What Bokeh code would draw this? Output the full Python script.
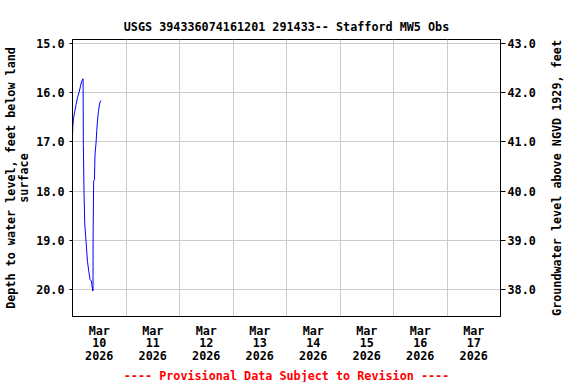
import pandas as pd
from bokeh.plotting import figure
from bokeh.layouts import row
from bokeh.models import Range1d, LinearAxis, FixedTicker, Title, NumeralTickFormatter
from bokeh.embed import file_html
from bokeh.resources import INLINE

# ---- data ----
times = ["2026-03-10 00:00", "2026-03-10 00:10", "2026-03-10 00:27", "2026-03-10 01:02",
         "2026-03-10 01:37", "2026-03-10 02:22", "2026-03-10 02:58", "2026-03-10 03:35",
         "2026-03-10 04:02", "2026-03-10 04:37", "2026-03-10 04:45", "2026-03-10 04:52",
         "2026-03-10 05:12", "2026-03-10 05:30", "2026-03-10 06:05", "2026-03-10 06:43",
         "2026-03-10 07:18", "2026-03-10 07:53", "2026-03-10 08:30", "2026-03-10 09:05",
         "2026-03-10 09:12", "2026-03-10 09:15", "2026-03-10 09:30", "2026-03-10 09:51",
         "2026-03-10 10:06", "2026-03-10 10:34", "2026-03-10 10:53", "2026-03-10 11:12",
         "2026-03-10 11:38", "2026-03-10 12:13", "2026-03-10 12:48"]
depth = [16.86, 16.68, 16.52, 16.38, 16.24, 16.08, 15.99, 15.87,
         15.78, 15.72, 15.72, 17.05, 18.10, 18.67, 19.03, 19.43,
         19.63, 19.80, 19.83, 20.03, 20.03, 18.85, 17.80, 17.77,
         17.26, 17.02, 16.77, 16.58, 16.38, 16.21, 16.16]
day_dates = ["2026-03-10", "2026-03-11", "2026-03-12", "2026-03-13",
             "2026-03-14", "2026-03-15", "2026-03-16", "2026-03-17"]
day_labels = ["Mar\n10\n2026", "Mar\n11\n2026", "Mar\n12\n2026", "Mar\n13\n2026",
              "Mar\n14\n2026", "Mar\n15\n2026", "Mar\n16\n2026", "Mar\n17\n2026"]
depth_ticks = [15, 16, 17, 18, 19, 20]
elev_ticks = [38, 39, 40, 41, 42, 43]
datum = 58.0  # land surface elevation: elevation = datum - depth
depth_min, depth_max = 14.92, 20.55
x_first, x_last = "2026-03-10", "2026-03-18"

title_text = "USGS 394336074161201 291433-- Stafford MW5 Obs"
caption_text = "---- Provisional Data Subject to Revision ----"
left_label = "Depth to water level, feet below land\nsurface"
right_label = "Groundwater level above NGVD 1929, feet"

FONT = "DejaVu Sans Mono"
FS = "11.75px"


def ms(s):
    return int(pd.Timestamp(s).value // 10**6)


t = pd.to_datetime(times)
label_ticks = [ms(d) + 12 * 3600 * 1000 for d in day_dates]
grid_ticks = [ms(d) for d in day_dates[1:]]

p = figure(frame_width=428, frame_height=277, x_axis_type="datetime",
           output_backend="svg", toolbar_location=None,
           x_range=Range1d(ms(x_first), ms(x_last)),
           y_range=Range1d(depth_max, depth_min),
           min_border_left=72, min_border_right=36,
           min_border_top=39, min_border_bottom=66)

p.line(t, depth, line_color="#0000ff", line_width=1)

# title
p.title.text = title_text
p.title.align = "center"
p.title.text_font = FONT
p.title.text_font_size = FS
p.title.text_font_style = "bold"
p.title.text_color = "black"
p.title.standoff = 12

p.outline_line_color = "black"
p.outline_line_width = 1
p.background_fill_color = "white"
p.border_fill_color = "white"

# x axis
xa = p.xaxis[0]
xa.ticker = FixedTicker(ticks=label_ticks)
xa.major_label_overrides = {k: v for k, v in zip(label_ticks, day_labels)}
xa.major_tick_out = 0
xa.major_tick_in = 0
xa.minor_tick_out = 0
xa.minor_tick_in = 0
xa.major_label_standoff = 7
xa.major_label_text_font = FONT
xa.major_label_text_font_size = FS
xa.major_label_text_font_style = "bold"
xa.major_label_text_color = "black"
xa.major_label_text_line_height = 0.92
xa.axis_line_color = "black"

# left axis
ya = p.yaxis[0]
ya.ticker = FixedTicker(ticks=depth_ticks)
ya.formatter = NumeralTickFormatter(format="0.0")
ya.major_tick_out = 3
ya.major_tick_in = 0
ya.minor_tick_out = 0
ya.minor_tick_in = 0
ya.major_tick_line_color = "black"
ya.major_label_standoff = 5
ya.major_label_text_font = FONT
ya.major_label_text_font_size = FS
ya.major_label_text_font_style = "bold"
ya.major_label_text_color = "black"
ya.axis_label = left_label
ya.axis_label_standoff = 2
ya.axis_label_text_font = FONT
ya.axis_label_text_font_size = FS
ya.axis_label_text_font_style = "bold"
ya.axis_label_text_color = "black"
ya.axis_label_text_line_height = 0.92
ya.axis_line_color = "black"

# right axis (ticks and values)
p.extra_y_ranges = {"elev": Range1d(datum - depth_max, datum - depth_min)}
ra = LinearAxis(y_range_name="elev", ticker=FixedTicker(ticks=elev_ticks),
                formatter=NumeralTickFormatter(format="0.0"))
ra.major_tick_out = 5
ra.major_tick_in = 0
ra.minor_tick_out = 0
ra.minor_tick_in = 0
ra.major_tick_line_color = "black"
ra.major_label_standoff = 2
ra.major_label_text_font = FONT
ra.major_label_text_font_size = FS
ra.major_label_text_font_style = "bold"
ra.major_label_text_color = "black"
ra.axis_line_color = "black"
p.add_layout(ra, "right")

# grids
p.xgrid.ticker = FixedTicker(ticks=grid_ticks)
p.ygrid.ticker = FixedTicker(ticks=depth_ticks)
p.xgrid.grid_line_color = "#cccccc"
p.ygrid.grid_line_color = "#cccccc"
p.xgrid.grid_line_alpha = 1
p.ygrid.grid_line_alpha = 1

# caption below
cap = Title(text=caption_text, align="center", text_color="red", standoff=0,
            text_font=FONT, text_font_size=FS, text_font_style="bold")
p.add_layout(cap, "below")

# narrow companion figure that carries the right-hand axis title (reads bottom-to-top)
q = figure(frame_width=4, frame_height=277, output_backend="svg", toolbar_location=None,
           x_axis_location=None, title=None,
           x_range=Range1d(0, 1), y_range=Range1d(datum - depth_max, datum - depth_min),
           min_border_left=30, min_border_right=6, min_border_top=39, min_border_bottom=66)
q.outline_line_color = None
q.background_fill_color = "white"
q.border_fill_color = "white"
q.grid.visible = False
qa = q.yaxis[0]
qa.ticker = FixedTicker(ticks=[])
qa.major_tick_out = 0
qa.major_tick_in = 0
qa.minor_tick_out = 0
qa.minor_tick_in = 0
qa.major_label_standoff = 0
qa.axis_line_color = None
qa.axis_label = right_label
qa.axis_label_standoff = 5
qa.axis_label_text_font = FONT
qa.axis_label_text_font_size = FS
qa.axis_label_text_font_style = "bold"
qa.axis_label_text_color = "black"

layout = row(p, q, spacing=0)
open("out.html", "w").write(file_html(layout, INLINE))
